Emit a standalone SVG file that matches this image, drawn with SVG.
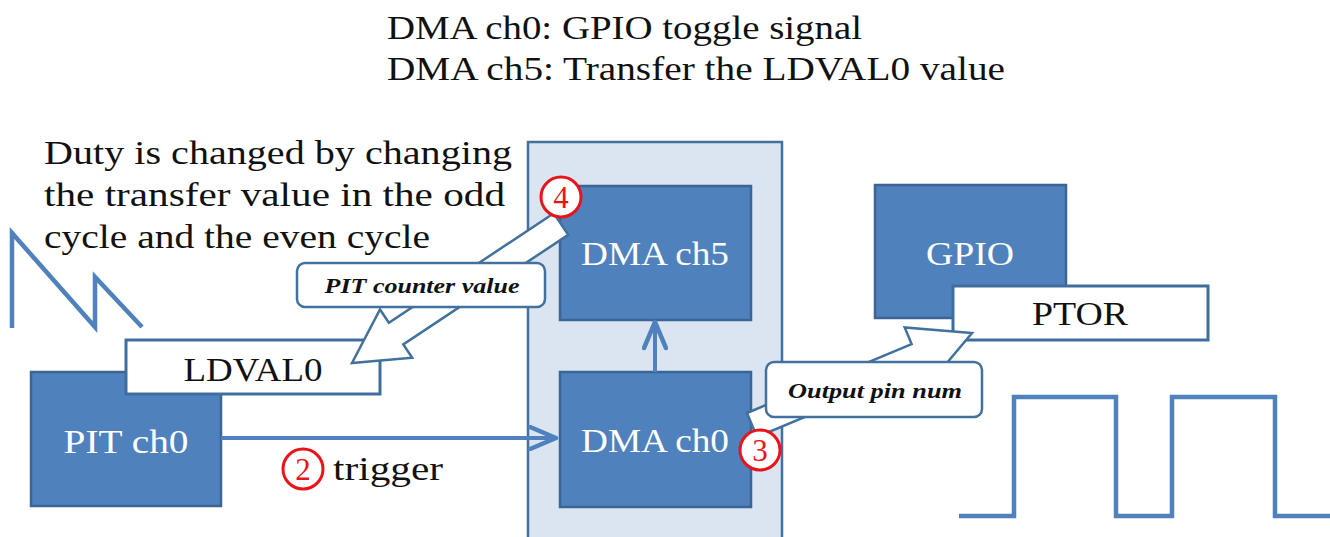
<svg xmlns="http://www.w3.org/2000/svg" width="1330" height="537" viewBox="0 0 1330 537">
  <style>
    .txt { font-family: "Liberation Serif", "DejaVu Serif", serif; fill: #111; }
    .lbl { font-family: "Liberation Serif", "DejaVu Serif", serif; font-size: 33px; fill: #ffffff; text-anchor: middle; }
    .blk { font-family: "Liberation Serif", "DejaVu Serif", serif; font-size: 33px; fill: #111; text-anchor: middle; }
    .note { font-family: "Liberation Serif", "DejaVu Serif", serif; font-size: 22px; font-style: italic; font-weight: bold; fill: #111; text-anchor: middle; }
    .box { fill: #4f81bd; stroke: #3a6595; stroke-width: 2.5; }
    .reg { fill: #ffffff; stroke: #3f6e9e; stroke-width: 3; }
    .panel { fill: #dbe5f1; stroke: #41719c; stroke-width: 2.5; }
    .callout { fill: #ffffff; stroke: #41719c; stroke-width: 2.5; }
    .barrow { fill: #ffffff; stroke: #41719c; stroke-width: 2.5; stroke-linejoin: miter; }
    .wave { fill: none; stroke: #4f81bd; stroke-width: 4.5; }
    .link { fill: none; stroke: #4f81bd; stroke-width: 4; }
    .step circle { fill: #ffffff; stroke: #e8141a; stroke-width: 3; }
    .step text { font-family: "Liberation Serif", "DejaVu Serif", serif; font-size: 31px; fill: #e8141a; text-anchor: middle; }
  </style>
  <defs>
    <marker id="chev" viewBox="0 0 32 26" markerWidth="32" markerHeight="26" refX="29" refY="13" orient="auto" markerUnits="userSpaceOnUse">
      <path d="M3 2 L29 13 L3 24" fill="none" stroke="#4f81bd" stroke-width="4.5" stroke-linecap="round" stroke-linejoin="round"/>
    </marker>
  </defs>

  <rect width="1330" height="537" fill="#ffffff"/>

  <!-- legend -->
  <g id="legend">
    <text class="txt" x="387" y="39" font-size="33" textLength="475" lengthAdjust="spacingAndGlyphs">DMA ch0: GPIO toggle signal</text>
    <text class="txt" x="387" y="80" font-size="33" textLength="618" lengthAdjust="spacingAndGlyphs">DMA ch5: Transfer the LDVAL0 value</text>
  </g>

  <!-- duty note -->
  <g id="duty-note">
    <text class="txt" x="44" y="164" font-size="34" textLength="468" lengthAdjust="spacingAndGlyphs">Duty is changed by changing</text>
    <text class="txt" x="44" y="206" font-size="34" textLength="461" lengthAdjust="spacingAndGlyphs">the transfer value in the odd</text>
    <text class="txt" x="44" y="248" font-size="34" textLength="386" lengthAdjust="spacingAndGlyphs">cycle and the even cycle</text>
  </g>

  <!-- sawtooth of the PIT counter -->
  <g id="sawtooth">
    <polyline class="wave" points="12,328 12,233 95,327 95,277 142,327"/>
  </g>

  <!-- DMA block -->
  <g id="dma-panel">
    <rect class="panel" x="528" y="142" width="254" height="400"/>
  </g>
  <g id="dma-ch5">
    <rect class="box" x="560" y="186" width="191" height="134"/>
    <text class="lbl" x="655" y="265" textLength="148" lengthAdjust="spacingAndGlyphs">DMA ch5</text>
  </g>
  <g id="dma-ch0">
    <rect class="box" x="560" y="372" width="191" height="135"/>
    <text class="lbl" x="655" y="452" textLength="148" lengthAdjust="spacingAndGlyphs">DMA ch0</text>
  </g>

  <!-- PIT -->
  <g id="pit-ch0">
    <rect class="box" x="31" y="372" width="190" height="134"/>
    <text class="lbl" x="126" y="453" textLength="125" lengthAdjust="spacingAndGlyphs">PIT ch0</text>
  </g>
  <g id="ldval0">
    <rect class="reg" x="126" y="340" width="254" height="54"/>
    <text class="blk" x="253" y="381" textLength="139" lengthAdjust="spacingAndGlyphs">LDVAL0</text>
  </g>

  <!-- GPIO -->
  <g id="gpio">
    <rect class="box" x="875" y="185" width="191" height="133"/>
    <text class="lbl" x="970" y="265" textLength="88" lengthAdjust="spacingAndGlyphs">GPIO</text>
  </g>
  <g id="ptor">
    <rect class="reg" x="953" y="286" width="255" height="54"/>
    <text class="blk" x="1080" y="325" textLength="96" lengthAdjust="spacingAndGlyphs">PTOR</text>
  </g>

  <!-- output waveform -->
  <g id="pin-wave">
    <polyline class="wave" points="959,516 1014,516 1014,397 1116,397 1116,516 1172,516 1172,397 1275,397 1275,516 1330,516"/>
  </g>

  <!-- connectors -->
  <g id="connectors">
    <line class="link" x1="221" y1="438" x2="556" y2="438" marker-end="url(#chev)"/>
    <line class="link" x1="655" y1="372" x2="655" y2="322" marker-end="url(#chev)"/>
    <!-- DMA ch5 writes the PIT counter value into LDVAL0 -->
    <polygon id="arrow-ldval" class="barrow" points="553.8,213.2 388.9,322.8 380,309.5 352,363 412.2,357.7 403.3,344.4 568.2,234.8"/>
    <!-- DMA ch0 writes the output pin number into PTOR -->
    <polygon id="arrow-ptor" class="barrow" points="747,413 911.6,344.1 904.7,327.5 972,333 928.6,384.7 921.7,368.1 757,437"/>
  </g>

  <!-- callout labels on the transfer arrows -->
  <g id="callout-pit">
    <rect class="callout" x="297" y="263" width="248" height="44" rx="8"/>
    <text class="note" x="422" y="293" textLength="195" lengthAdjust="spacingAndGlyphs">PIT counter value</text>
  </g>
  <g id="callout-pin">
    <rect class="callout" x="766" y="362" width="216" height="55" rx="8"/>
    <text class="note" x="875" y="398" textLength="174" lengthAdjust="spacingAndGlyphs">Output pin num</text>
  </g>

  <!-- step numbers -->
  <g id="step-2" class="step">
    <circle cx="303" cy="469" r="20"/>
    <text x="303" y="480">2</text>
  </g>
  <text class="txt" x="333" y="480" font-size="33" textLength="110" lengthAdjust="spacingAndGlyphs">trigger</text>
  <g id="step-3" class="step">
    <circle cx="760" cy="450" r="20"/>
    <text x="760" y="461">3</text>
  </g>
  <g id="step-4" class="step">
    <circle cx="561" cy="197" r="20"/>
    <text x="561" y="208">4</text>
  </g>
</svg>
